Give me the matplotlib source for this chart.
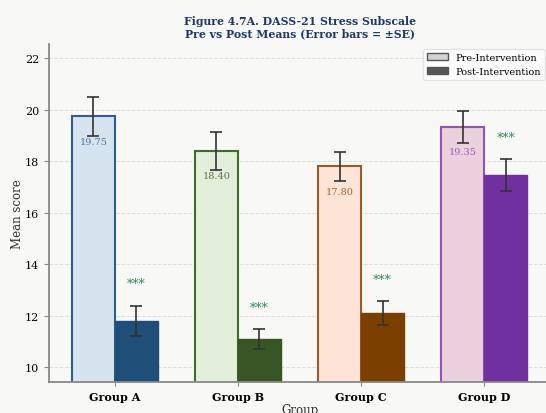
import numpy as np
import matplotlib
matplotlib.use('Agg')
import matplotlib.pyplot as plt
from matplotlib.patches import Patch

groups = ['Group A', 'Group B', 'Group C', 'Group D']
pre_means = [19.75, 18.40, 17.80, 19.35]
pre_se = [0.75, 0.72, 0.58, 0.62]
post_means = [11.80, 11.10, 12.10, 17.45]
post_se = [0.58, 0.38, 0.45, 0.62]
sig = ['***', '***', '***', '***']

pre_fill = ['#d6e4f0', '#e2efda', '#fde4d6', '#ead1dc']
pre_edge = ['#2e5d8e', '#3f6b2c', '#9c5a26', '#9055b8']
post_fill = ['#1f4e79', '#375623', '#7b3f00', '#7030a0']
label_col = ['#4a78aa', '#56783f', '#a8652e', '#9b59c0']

plt.rcParams['font.family'] = ['DejaVu Serif']

fig = plt.figure(figsize=(5.46, 4.14), dpi=100, facecolor='#f8f8f6')
ax = fig.add_axes([49/546, 31/414, 501/546, 338/414])
ax.set_facecolor('#f8f8f6')

x = np.arange(len(groups))
w = 0.35
ax.bar(x - w/2, pre_means, w, color=pre_fill, edgecolor=pre_edge, linewidth=1.5, zorder=2)
ax.bar(x + w/2, post_means, w, color=post_fill, edgecolor=post_fill, linewidth=1.0, zorder=2)
ax.errorbar(x - w/2, pre_means, yerr=pre_se, fmt='none', ecolor='#333333',
            elinewidth=1.2, capsize=4, capthick=1.2, zorder=3)
ax.errorbar(x + w/2, post_means, yerr=post_se, fmt='none', ecolor='#333333',
            elinewidth=1.2, capsize=4, capthick=1.2, zorder=3)

for i in range(len(groups)):
    ax.text(x[i] - w/2, pre_means[i] - 0.97, f'{pre_means[i]:.2f}', ha='center', va='center',
            fontsize=7, color=label_col[i], zorder=4)
    ax.text(x[i] + w/2, post_means[i] + post_se[i] + 0.85, sig[i], ha='center', va='center',
            fontsize=9, color='#2e8b57', zorder=4)

ax.set_xlim(-0.535, 3.535)
ax.set_ylim(9.42, 22.56)
ax.set_yticks([10, 12, 14, 16, 18, 20, 22])
ax.set_xticks(x)
ax.set_xticklabels(groups, fontweight='bold', fontsize=8)
ax.tick_params(axis='y', labelsize=8, color='#888888')
ax.tick_params(axis='x', length=3, color='#888888')
ax.set_ylabel('Mean score', fontsize=8.5, color='#333333', labelpad=1)
ax.set_xlabel('Group', fontsize=8.5, color='#333333', labelpad=1)
ax.grid(axis='y', linestyle='--', color='#dddddd', linewidth=0.7, zorder=0)
ax.set_axisbelow(True)
for s in ['top', 'right']:
    ax.spines[s].set_visible(False)
for s in ['left', 'bottom']:
    ax.spines[s].set_color('#888888')
    ax.spines[s].set_linewidth(1.3)

handles = [Patch(facecolor='#d3d3d3', edgecolor='#555555', label='Pre-Intervention'),
           Patch(facecolor='#555555', edgecolor='#555555', label='Post-Intervention')]
ax.legend(handles=handles, loc='upper right', bbox_to_anchor=(1.0, 1.0), fontsize=7,
          frameon=True, facecolor='white', edgecolor='#dddddd', handlelength=2.2)

fig.text(300/546, 1 - 28/414, 'Figure 4.7A. DASS-21 Stress Subscale\nPre vs Post Means (Error bars = \u00b1SE)',
         ha='center', va='center', fontsize=7.8, fontweight='bold', color='#1f3864', linespacing=1.15)

fig.savefig('out.png', dpi=100, facecolor=fig.get_facecolor())
